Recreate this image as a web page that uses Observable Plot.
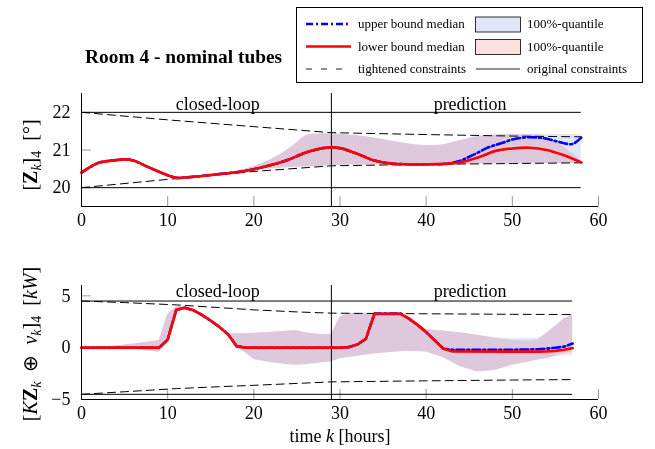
<!DOCTYPE html>
<html>
<head>
<meta charset="utf-8">
<script src="https://cdn.jsdelivr.net/npm/d3@7"></script>
<script src="https://cdn.jsdelivr.net/npm/@observablehq/plot@0.6"></script>
<style>
  body { margin: 0; background: #fff; }
  #wrap { position: relative; width: 655px; height: 449px; font-family: "Liberation Serif", serif; overflow: hidden; }
  #top, #bot { position: absolute; left: 0; }
  #top { top: 85px; }
  #bot { top: 258px; }
  #overlay { position: absolute; left: 0; top: 0; pointer-events: none; }
</style>
</head>
<body>
<div id="wrap">
  <div id="top"></div>
  <div id="bot"></div>
  <svg id="overlay" width="655" height="449" font-family="Liberation Serif, serif">
    <text x="85" y="63" font-size="19.4" font-weight="bold">Room 4 - nominal tubes</text>
    <rect x="296.5" y="7.5" width="346" height="75" fill="#fff" stroke="#000" stroke-width="1"/>
    <line x1="306" y1="24" x2="351" y2="24" stroke="#0000ff" stroke-width="2.5" stroke-dasharray="7,3,2,3"/>
    <text x="358" y="24" dy="0.33em" font-size="13">upper bound median</text>
    <rect x="475.5" y="17" width="45" height="15" fill="#e1e4fa" stroke="#000" stroke-width="0.8"/>
    <text x="527" y="24" dy="0.33em" font-size="13">100%-quantile</text>
    <line x1="306" y1="46.5" x2="351" y2="46.5" stroke="#ff0000" stroke-width="2.5"/>
    <text x="358" y="46.5" dy="0.33em" font-size="13">lower bound median</text>
    <rect x="475.5" y="39.5" width="45" height="15" fill="#fce1e1" stroke="#000" stroke-width="0.8"/>
    <text x="527" y="46.5" dy="0.33em" font-size="13">100%-quantile</text>
    <line x1="306" y1="69" x2="351" y2="69" stroke="#222" stroke-width="1" stroke-dasharray="6,9"/>
    <text x="358" y="69" dy="0.33em" font-size="13">tightened constraints</text>
    <line x1="476" y1="69" x2="520" y2="69" stroke="#222" stroke-width="1"/>
    <text x="527" y="69" dy="0.33em" font-size="13">original constraints</text>
    <text transform="translate(37,155) rotate(-90)" text-anchor="middle" font-size="20">[<tspan font-weight="bold">Z</tspan><tspan dy="4" font-size="14" font-style="italic">k</tspan><tspan dy="-4">]</tspan><tspan dy="4" font-size="14">4</tspan><tspan dy="-4">&#8194;[°]</tspan></text>
    <text transform="translate(37,344) rotate(-90)" text-anchor="middle" font-size="20">[<tspan font-style="italic">K</tspan><tspan font-weight="bold">Z</tspan><tspan dy="4" font-size="14" font-style="italic">k</tspan><tspan dy="-4">&#8194;⊕&#8194;</tspan><tspan font-style="italic">v</tspan><tspan dy="4" font-size="14" font-style="italic">k</tspan><tspan dy="-4">]</tspan><tspan dy="4" font-size="14">4</tspan><tspan dy="-4">&#8194;[</tspan><tspan font-style="italic">kW</tspan>]</text>
    <text x="340" y="442" text-anchor="middle" font-size="18">time <tspan font-style="italic">k</tspan> [hours]</text>
  </svg>
</div>
<script>
// ---------------- data: temperature panel ----------------
const kTopMed   = [0, 2, 4, 5, 6, 8, 10, 11, 12, 14, 16, 18, 20, 22, 24, 26, 28, 29, 30, 32, 34, 36, 38, 40, 42, 44, 46, 48, 50, 52, 54, 56, 57, 58];
const zLowerMed = [20.40, 20.66, 20.73, 20.75, 20.72, 20.52, 20.33, 20.26, 20.27, 20.31, 20.36, 20.41, 20.49, 20.60, 20.74, 20.93, 21.05, 21.07, 21.05, 20.90, 20.72, 20.64, 20.62, 20.62, 20.63, 20.67, 20.80, 20.97, 21.04, 21.06, 21.00, 20.86, 20.77, 20.67];
const kTopBlue  = [0, 2, 4, 5, 6, 8, 10, 11, 12, 14, 16, 18, 20, 22, 24, 26, 28, 29, 30, 32, 34, 36, 38, 40, 42, 43, 44, 45, 46, 47, 48, 49, 50, 51, 52, 53, 54, 55, 56, 57, 58];
const zUpperMed = [20.40, 20.66, 20.73, 20.75, 20.72, 20.52, 20.33, 20.26, 20.27, 20.31, 20.36, 20.41, 20.49, 20.60, 20.74, 20.93, 21.05, 21.07, 21.05, 20.90, 20.72, 20.64, 20.62, 20.62, 20.63, 20.66, 20.72, 20.82, 20.93, 21.05, 21.13, 21.20, 21.28, 21.32, 21.34, 21.33, 21.30, 21.24, 21.18, 21.16, 21.33];
const kTopTube  = [0, 2, 4, 6, 8, 10, 11, 12, 14, 16, 18, 20, 22, 24, 25, 26, 28, 29, 30, 32, 34, 36, 38, 40, 42, 44, 46, 48, 50, 52, 53, 54, 55, 56, 57, 58];
const zLowerTubeHi = [20.42, 20.68, 20.76, 20.75, 20.54, 20.35, 20.28, 20.29, 20.33, 20.38, 20.44, 20.56, 20.75, 21.02, 21.19, 21.38, 21.43, 21.43, 21.42, 21.38, 21.32, 21.24, 21.16, 21.12, 21.14, 21.25, 21.36, 21.40, 21.41, 21.41, 21.40, 21.33, 21.22, 21.08, 20.90, 20.72];
const zUpperTubeHi = [20.42, 20.68, 20.76, 20.75, 20.54, 20.35, 20.28, 20.29, 20.33, 20.38, 20.44, 20.56, 20.75, 21.02, 21.19, 21.38, 21.43, 21.43, 21.42, 21.38, 21.32, 21.24, 21.16, 21.12, 21.14, 21.25, 21.36, 21.40, 21.41, 21.41, 21.41, 21.41, 21.41, 21.41, 21.41, 21.42];
const zTubeLo      = [20.38, 20.64, 20.71, 20.70, 20.50, 20.31, 20.24, 20.25, 20.29, 20.34, 20.39, 20.46, 20.50, 20.53, 20.54, 20.55, 20.57, 20.58, 20.59, 20.60, 20.60, 20.61, 20.61, 20.62, 20.62, 20.62, 20.63, 20.63, 20.63, 20.64, 20.64, 20.64, 20.64, 20.64, 20.64, 20.64];
const kTopTight = [0, 10, 20, 29, 40, 50, 58];
const zTightHi  = [22.0, 21.8, 21.62, 21.46, 21.41, 21.37, 21.35];
const zTightLo  = [20.0, 20.22, 20.43, 20.58, 20.62, 20.64, 20.66];
const zOrig     = [20, 22];
const kTopRange = [0, 58];

// ---------------- data: input panel ----------------
const kBotMed   = [0, 9, 10, 11, 12, 13, 14, 15, 16, 17, 18, 19, 30, 31, 32, 33, 34, 37, 38, 39, 40, 41, 42, 43, 50, 53, 54, 55, 56, 57];
const uLowerMed = [0, 0, 0.77, 3.65, 3.85, 3.6, 3.15, 2.6, 2.0, 1.3, 0.15, 0, 0, 0.05, 0.3, 0.85, 3.27, 3.27, 2.8, 2.2, 1.5, 0.7, -0.1, -0.35, -0.38, -0.38, -0.35, -0.3, -0.2, -0.05];
const uUpperMed = [0, 0, 0.77, 3.65, 3.85, 3.6, 3.15, 2.6, 2.0, 1.3, 0.15, 0, 0, 0.05, 0.3, 0.85, 3.3, 3.3, 2.8, 2.2, 1.5, 0.7, -0.1, -0.2, -0.2, -0.15, -0.1, 0.0, 0.1, 0.4];
const kBotTube  = [0, 3, 6, 9, 10, 11, 12, 13, 14, 15, 16, 17, 18, 19, 20, 22, 24, 25, 26, 28, 29, 30, 31, 34, 37, 38, 40, 42, 44, 46, 48, 50, 52, 53, 54, 55, 56, 57];
const uLowerTubeHi = [0, 0.1, 0.35, 0.7, 3.2, 3.95, 4.0, 3.7, 3.3, 2.75, 2.1, 1.4, 1.35, 1.37, 1.4, 1.5, 1.62, 1.66, 1.45, 1.25, 1.3, 2.95, 3.3, 3.3, 3.3, 2.9, 1.75, 1.6, 1.45, 1.2, 0.9, 0.7, 0.65, 0.75, 1.4, 2.1, 2.8, 3.2];
const uUpperTubeHi = [0, 0.1, 0.35, 0.7, 3.2, 3.95, 4.0, 3.7, 3.3, 2.75, 2.1, 1.4, 1.35, 1.37, 1.4, 1.5, 1.62, 1.66, 1.45, 1.25, 1.3, 2.95, 3.3, 3.3, 3.3, 2.9, 1.75, 1.6, 1.45, 1.2, 0.95, 0.85, 0.85, 0.9, 1.4, 2.1, 2.8, 3.2];
const uLowerTubeLo = [0, -0.05, -0.15, -0.45, 0.6, 3.5, 3.8, 3.5, 3.0, 2.45, 1.85, 1.1, 0, -0.5, -1.15, -1.45, -1.65, -1.7, -1.65, -1.45, -1.38, -1.06, -0.95, -0.6, -0.4, -0.35, -0.42, -0.96, -1.86, -2.35, -2.2, -1.7, -1.38, -1.2, -1.06, -0.9, -0.75, -0.75];
const uUpperTubeLo = [0, -0.05, -0.15, -0.45, 0.6, 3.5, 3.8, 3.5, 3.0, 2.45, 1.85, 1.1, 0, -0.5, -1.15, -1.45, -1.65, -1.7, -1.65, -1.45, -1.38, -1.06, -0.95, -0.6, -0.4, -0.35, -0.42, -0.96, -1.86, -2.35, -2.2, -1.7, -1.38, -1.2, -1.06, -0.8, -0.55, -0.45];
const kBotTight = [0, 5, 11, 15, 20, 25, 29, 40, 50, 57];
const uTightHi  = [4.5, 4.35, 4.13, 3.92, 3.65, 3.45, 3.33, 3.27, 3.22, 3.2];
const uTightLo  = [-4.5, -4.25, -3.95, -3.8, -3.63, -3.45, -3.3, -3.2, -3.12, -3.08];
const uOrig     = [-4.5, 4.5];
const kBotRange = [0, 57];

// ---------------- shared ----------------
const xTicks   = [0, 10, 20, 30, 40, 50, 60];
const zTicks   = [20, 21, 22];
const uTicks   = [-5, 0, 5];
const kSplit   = [29];
const phaseLabels = ["closed-loop", "prediction"];

const zip = (ks, ...cols) => ks.map((k, i) => Object.fromEntries([["k", k], ...cols.map(([n, c]) => [n, c[i]])]));

const W = 655, ML = 81, MR = 57;
const fmt = d => d < 0 ? "\u2212" + (-d) : String(d);
const BLUE_TUBE = "#e1e4fa", RED_TUBE = "#fce1e1";

function panel({height, mt, mb, ydom, yticks, med, blue, tube, tight, orig, range, labelDy, curve}) {
  const ph = height - mt - mb, pw = W - ML - MR;
  return Plot.plot({
    width: W, height, marginLeft: ML, marginRight: MR, marginTop: mt, marginBottom: mb,
    x: {domain: [0, 60]},
    y: {domain: ydom},
    style: {fontFamily: "Liberation Serif, serif", fontSize: "18px", background: "transparent", overflow: "visible", color: "#000"},
    marks: [
      Plot.areaY(tube, {x: "k", y1: "lo", y2: "bhi", fill: BLUE_TUBE, curve, mixBlendMode: "multiply"}),
      Plot.areaY(tube, {x: "k", y1: "rlo", y2: "rhi", fill: RED_TUBE, curve, mixBlendMode: "multiply"}),
      Plot.ruleX(xTicks, {stroke: "#999", strokeWidth: 1, insetTop: ph - 10}),
      Plot.ruleY(yticks, {stroke: "#999", strokeWidth: 1, insetRight: pw - 10}),
      Plot.ruleY(orig, {x1: range[0], x2: range[1], stroke: "#000", strokeWidth: 1}),
      Plot.line(tight, {x: "k", y: "hi", stroke: "#000", strokeWidth: 1, strokeDasharray: "8,5"}),
      Plot.line(tight, {x: "k", y: "lo", stroke: "#000", strokeWidth: 1, strokeDasharray: "8,5"}),
      Plot.ruleX(kSplit, {stroke: "#000", strokeWidth: 1}),
      Plot.line(blue, {x: "k", y: "v", stroke: "#0000ff", strokeWidth: 2.6, strokeDasharray: "8,3,2,3", curve}),
      Plot.line(med, {x: "k", y: "v", stroke: "#ff0000", strokeWidth: 2.7, curve}),
      Plot.ruleX([0], {stroke: "#000", strokeWidth: 1}),
      Plot.ruleY([ydom[0]], {stroke: "#000", strokeWidth: 1}),
      Plot.text(phaseLabels, {x: [15.8, 45.1], text: d => d, frameAnchor: "top", dy: labelDy, fontSize: 18}),
      Plot.axisX(xTicks, {tickSize: 0, tickPadding: 7, label: null, fontSize: 18}),
      Plot.axisY(yticks, {tickSize: 0, tickPadding: 11, label: null, tickFormat: fmt, fontSize: 18})
    ]
  });
}

const topChart = panel({
  height: 145, mt: 8, mb: 24, ydom: [19.5, 22.5], yticks: zTicks,
  med: zip(kTopMed, ["v", zLowerMed]),
  blue: zip(kTopBlue, ["v", zUpperMed]),
  tube: zip(kTopTube, ["lo", zTubeLo], ["bhi", zUpperTubeHi], ["rlo", zTubeLo], ["rhi", zLowerTubeHi]),
  tight: zip(kTopTight, ["hi", zTightHi], ["lo", zTightLo]),
  orig: zOrig, range: kTopRange, labelDy: 4, curve: "catmull-rom"
});
const botChart = panel({
  height: 191, mt: 27, mb: 50, ydom: [-5, 6], yticks: uTicks,
  med: zip(kBotMed, ["v", uLowerMed]),
  blue: zip(kBotMed, ["v", uUpperMed]),
  tube: zip(kBotTube, ["lo", uUpperTubeLo], ["bhi", uUpperTubeHi], ["rlo", uLowerTubeLo], ["rhi", uLowerTubeHi]),
  tight: zip(kBotTight, ["hi", uTightHi], ["lo", uTightLo]),
  orig: uOrig, range: kBotRange, labelDy: -1, curve: "linear"
});
document.getElementById("top").appendChild(topChart);
document.getElementById("bot").appendChild(botChart);
</script>
</body>
</html>
